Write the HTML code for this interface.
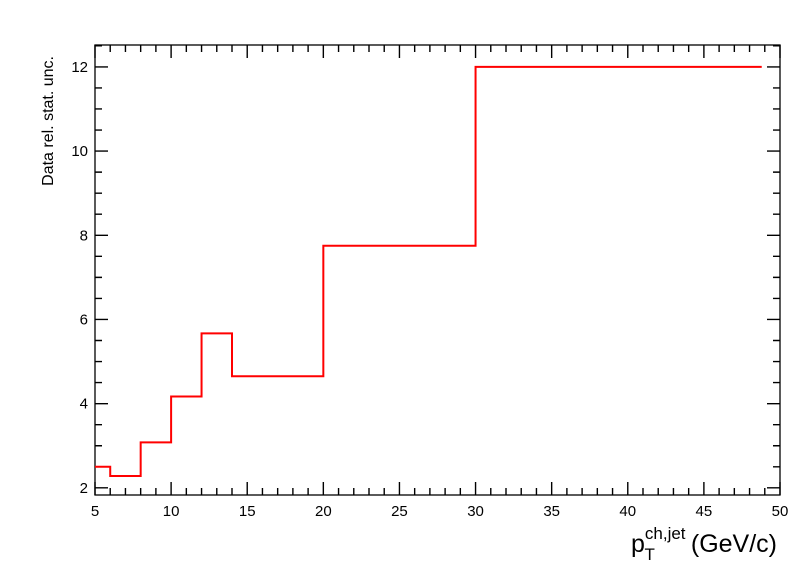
<!DOCTYPE html>
<html><head><meta charset="utf-8"><style>
body{margin:0;background:#fff;}
svg{display:block;font-family:"Liberation Sans",sans-serif;}
</style></head><body>
<svg id="chart" width="796" height="572">
<rect width="796" height="572" fill="#fff"/>
</svg>
<script>
const binEdges=[5,6,8,10,12,14,20,30,48.8];
const binValues=[2.5,2.28,3.08,4.17,5.67,4.65,7.75,12.0];
const xTicks=[5,10,15,20,25,30,35,40,45,50];
const yTicks=[2,4,6,8,10,12];
const L=95,R=780,T=45,B=495,xMin=5,xMax=50,yMin=1.83,yMax=12.52;
const sx=v=>L+(v-xMin)/(xMax-xMin)*(R-L);
const sy=v=>B-(v-yMin)/(yMax-yMin)*(B-T);
const svg=document.getElementById('chart');
const NS='http://www.w3.org/2000/svg';
function mk(tag,attrs,parent){const e=document.createElementNS(NS,tag);for(const k in attrs)e.setAttribute(k,attrs[k]);(parent||svg).appendChild(e);return e;}
const axes=mk('g',{});


mk('rect',{x:L,y:T,width:R-L,height:B-T,fill:'none',stroke:'#000','stroke-width':1.3},axes);
let d='';
for(let v=5;v<=50;v+=1){const x=sx(v);const len=(v%5===0)?13:7;d+=`M${x},${B}v${-len}M${x},${T}v${len}`;}
for(let v=2;v<=12.5;v+=0.5){const y=sy(v);const len=(Math.abs(v%2)<1e-9)?13:7;d+=`M${L},${y}h${len}M${R},${y}h${-len}`;}
mk('path',{d:d,stroke:'#000','stroke-width':1.4,fill:'none'},axes);
xTicks.forEach(v=>{const t=mk('text',{x:sx(v),y:516,'font-size':15,'text-anchor':'middle'},axes);t.textContent=v;

});
yTicks.forEach(v=>{const t=mk('text',{x:88,y:sy(v)+5,'font-size':15,'text-anchor':'end'},axes);t.textContent=v;

});
const yt=mk('text',{x:0,y:0,'font-size':16,'text-anchor':'end',transform:'translate(53,56) rotate(-90)'});
yt.textContent='Data rel. stat. unc.';


const xt=mk('text',{x:777,y:552,'font-size':25,'text-anchor':'end'});
xt.innerHTML='p<tspan font-size="17" dy="-13">ch,jet</tspan><tspan font-size="17" dx="-41" dy="21">T</tspan><tspan dx="29" dy="-8"> (GeV/c)</tspan>';


let p='';
binValues.forEach((v,i)=>{const x0=sx(binEdges[i]),x1=sx(binEdges[i+1]),y=sy(v);p+=(i===0?`M${x0},${y}`:`L${x0},${y}`)+`L${x1},${y}`;});
const h=mk('path',{d:p,stroke:'#f00','stroke-width':2,fill:'none'});


</script>
</body></html>
